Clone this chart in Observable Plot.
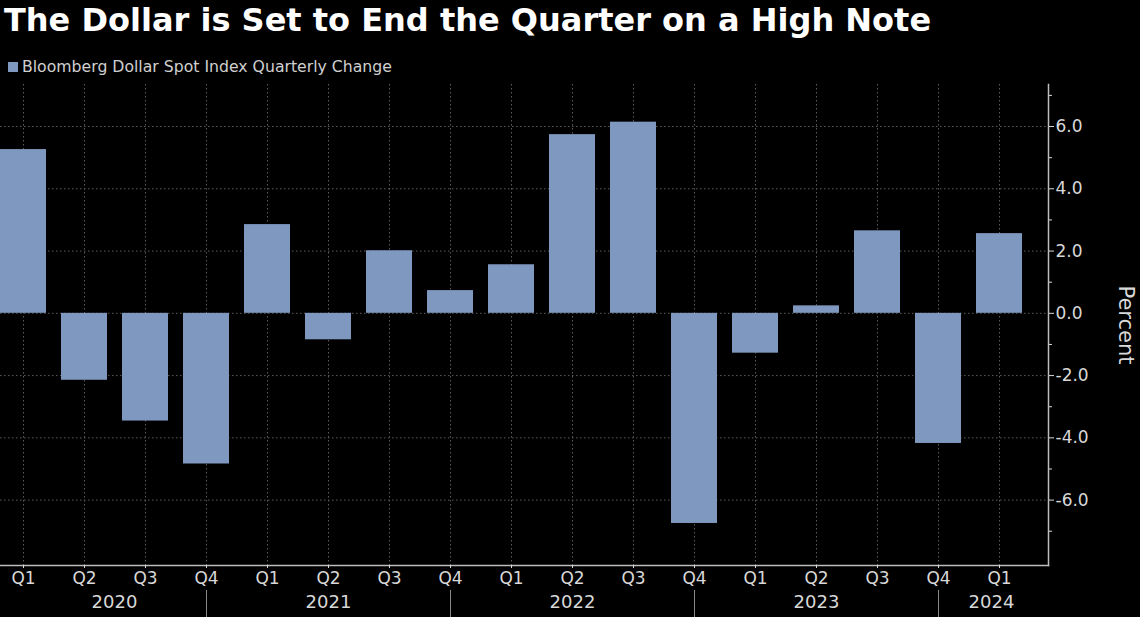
<!DOCTYPE html>
<html><head><meta charset="utf-8">
<script src="https://cdn.jsdelivr.net/npm/d3@7"></script>
<script src="https://cdn.jsdelivr.net/npm/@observablehq/plot@0.6"></script>
<style>
html,body{margin:0;padding:0;background:#000;width:1140px;height:617px;overflow:hidden}
#title{position:absolute;left:4px;top:1px;font-family:"DejaVu Sans";font-weight:bold;font-size:32px;color:#fff;white-space:nowrap}
#legend{position:absolute;left:8px;top:57px;font-family:"DejaVu Sans";font-size:15.7px;color:#d0d0d0;white-space:nowrap;display:flex;align-items:center}
#legend .sw{display:inline-block;width:10px;height:10px;background:#7f98bf;margin-right:4px}
#chart{position:absolute;left:0;top:80px}
</style></head>
<body>
<div id="title">The Dollar is Set to End the Quarter on a High Note</div>
<div id="legend"><span class="sw"></span><span id="legendText"></span></div>
<div id="chart"></div>
<script>
const seriesName = "Bloomberg Dollar Spot Index Quarterly Change";
const periods = ["2020 Q1","2020 Q2","2020 Q3","2020 Q4","2021 Q1","2021 Q2","2021 Q3","2021 Q4","2022 Q1","2022 Q2","2022 Q3","2022 Q4","2023 Q1","2023 Q2","2023 Q3","2023 Q4","2024 Q1"];
const changes = [5.26,-2.15,-3.46,-4.84,2.85,-0.85,2.01,0.73,1.56,5.74,6.14,-6.75,-1.28,0.24,2.65,-4.18,2.56];
const majorTicks = [-6,-4,-2,0,2,4,6];
const minorTicks = [-7,-5,-3,-1,1,3,5,7];
const yearLabels = ["2020","2021","2022","2023","2024"];
const yearAnchors = ["2020 Q2","2021 Q2","2022 Q2","2023 Q2","2024 Q1"];
const yearSeparators = ["2020 Q4","2021 Q4","2022 Q4","2023 Q4"];
const yLabel = "Percent";

document.getElementById("legendText").textContent = seriesName;
const data = periods.map((p, i) => ({period: p, value: changes[i]}));
const years = yearLabels.map((y, i) => ({year: y, at: yearAnchors[i]}));

const textColor = "#d8d8d8";
const gridColor = "#5c5c5c";
const font = "DejaVu Sans";

const chart = Plot.plot({
  width: 1140,
  height: 537,
  marginLeft: 0,
  marginRight: 92,
  marginTop: 4,
  marginBottom: 52,
  style: {background: "#000", color: textColor, fontFamily: font, fontSize: "15px"},
  x: {type: "band", domain: periods, range: [0, 1023], paddingInner: 0.24, paddingOuter: 0, label: null},
  y: {domain: [-8.1, 7.35], label: null},
  marks: [
    Plot.gridY(majorTicks, {stroke: gridColor, strokeOpacity: 1, strokeDasharray: "1.5,2.5"}),
    Plot.gridX(periods, {stroke: gridColor, strokeOpacity: 1, strokeDasharray: "1.5,2.5"}),
    Plot.barY(data, {x: "period", y: "value", fill: "#7f98bf"}),
    Plot.frame({anchor: "bottom", stroke: "#bdbdbd", strokeWidth: 1.5}),
    Plot.frame({anchor: "right", stroke: "#bdbdbd", strokeWidth: 1.5}),
    Plot.axisY(majorTicks, {anchor: "right", tickSize: 5, tickPadding: 2, tickFormat: d => d.toFixed(1), fontSize: 17, color: textColor, label: null}),
    Plot.axisY(minorTicks, {anchor: "right", tickSize: 3, tickFormat: () => "", color: textColor, label: null}),
    Plot.axisX({anchor: "bottom", tickSize: 3, tickPadding: 3, tickFormat: d => d.slice(5), fontSize: 17, color: textColor, label: null}),
    Plot.ruleX(yearSeparators, {stroke: "#888", insetTop: 506, insetBottom: -52}),
    Plot.text(years.slice(0, 1), {x: "at", text: "year", frameAnchor: "bottom", dy: 42, dx: 30, fontSize: 18, fill: textColor}),
    Plot.text(years.slice(1, 4), {x: "at", text: "year", frameAnchor: "bottom", dy: 42, fontSize: 18, fill: textColor}),
    Plot.text(years.slice(4), {x: "at", text: "year", frameAnchor: "bottom", dy: 42, dx: -8, fontSize: 18, fill: textColor}),
    Plot.text([yLabel], {frameAnchor: "right", dx: 77, rotate: 90, textAnchor: "middle", fontSize: 21, fill: textColor})
  ]
});
document.getElementById("chart").appendChild(chart);
</script>
</body></html>
